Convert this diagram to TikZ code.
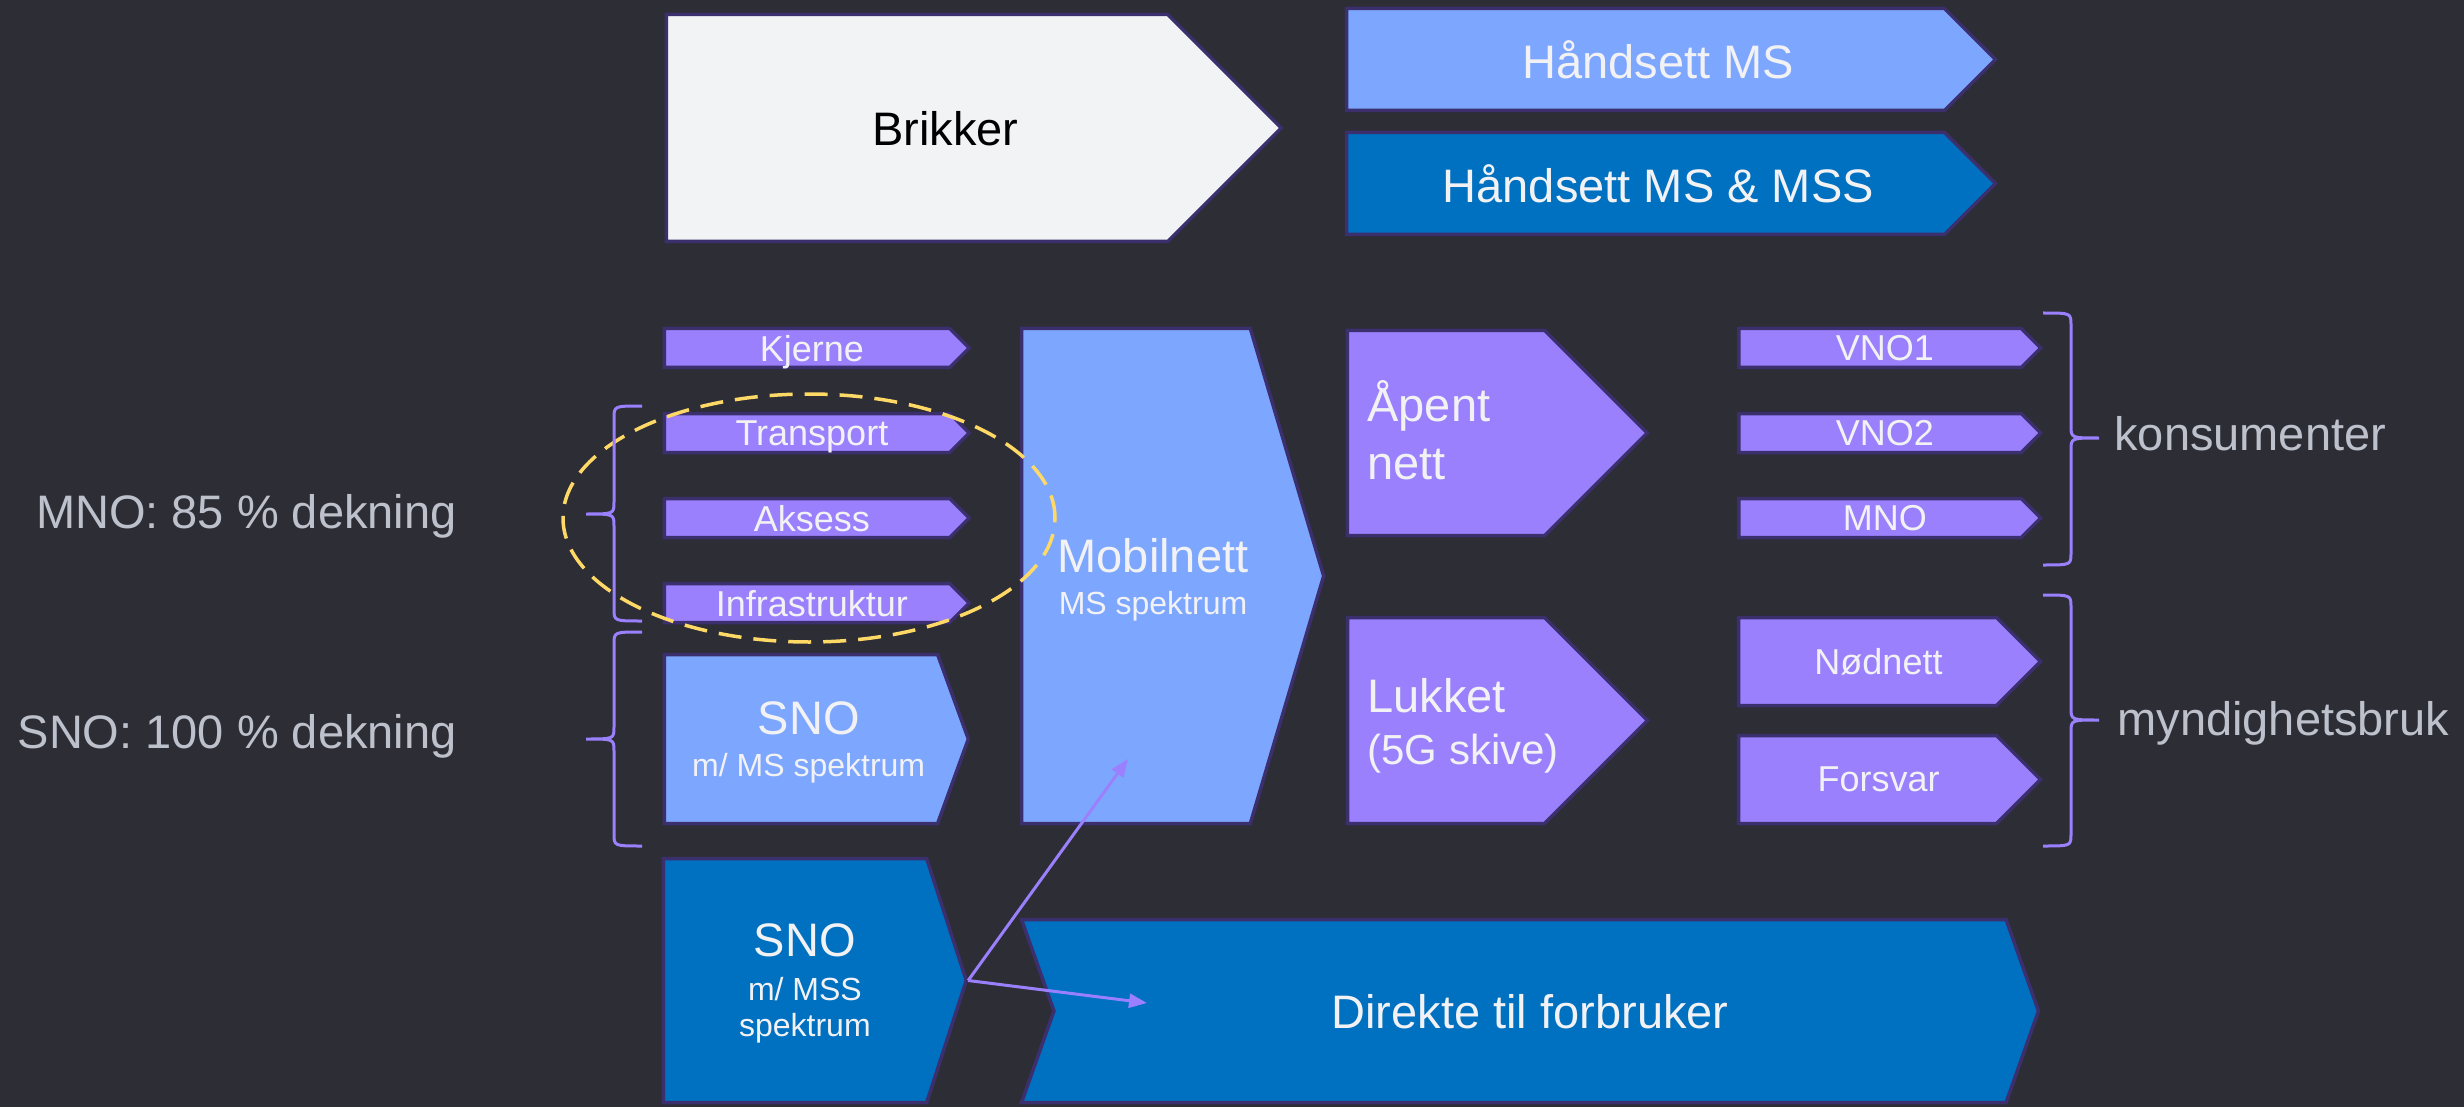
\documentclass[tikz,border=0pt]{standalone}
\usepackage{fontspec}
\setmainfont{Liberation Sans}
\usetikzlibrary{shapes.symbols,arrows.meta}
\definecolor{bg}{HTML}{2D2D36}
\definecolor{edge}{HTML}{3B2F6E}
\definecolor{chip}{HTML}{F2F3F5}
\definecolor{lightblue}{HTML}{7DA7FF}
\definecolor{darkblue}{HTML}{0070C0}
\definecolor{lilac}{HTML}{9A80FD}
\definecolor{paper}{HTML}{F2F2F5}
\definecolor{labelgray}{HTML}{BDC1CB}
\definecolor{ringyellow}{HTML}{FFD966}

\begin{document}
\begin{tikzpicture}[x=0.5pt, y=-0.5pt,
  font=\fontsize{23.5}{28}\selectfont,
  chev/.style={signal, signal to=east, draw=edge, line width=1.75pt, inner sep=0pt, text depth=0pt, text=paper, align=center},
  lite/.style={chev, fill=lightblue},
  deep/.style={chev, fill=darkblue},
  lilacbox/.style={chev, fill=lilac},
  slim/.style={lilacbox, font=\fontsize{18}{21}\selectfont, minimum width=152.5pt, minimum height=19.5pt, signal pointer angle=90},
  boxtext/.style={inner sep=0pt, text=paper, align=left},
  side/.style={inner sep=0pt, text=labelgray},
  curly/.style={draw=lilac, line width=1.5pt},
  ring/.style={draw=ringyellow, line width=1.75pt, dash pattern=on 11.5pt off 6pt},
  arr/.style={-{Triangle[length=9pt,width=7pt]}, line width=1.5pt, draw=lilac, fill=lilac}
]
\useasboundingbox (0,0) rectangle (2464,1107);
\fill[bg] (0,0) rectangle (2464,1107);

% chips and handsets
\node[chev, fill=chip, text=black, minimum width=307.5pt, minimum height=113.5pt, signal pointer angle=90] (brikker) at (917,128) {\hspace*{28.4pt}Brikker};
\node[lite, minimum width=324.5pt, minimum height=51pt, signal pointer angle=90] (hms) at (1645.5,59.5) {\hspace*{12.75pt}Håndsett MS};
\node[deep, minimum width=324.5pt, minimum height=51pt, signal pointer angle=90] (hmss) at (1645.5,183.5) {\hspace*{12.75pt}Håndsett MS \& MSS};

% network layers
\node[slim] (kjerne) at (807,348) {\hspace*{4.9pt}Kjerne};
\node[slim] (transport) at (807,433) {\hspace*{4.9pt}Transport};
\node[slim] (aksess) at (807,518) {\hspace*{4.9pt}Aksess};
\node[slim] (infra) at (807,603) {\hspace*{4.9pt}Infrastruktur};
\node[lite, font=\fontsize{16}{21}\selectfont, minimum width=152pt, minimum height=84.5pt, signal pointer angle=140] (snoms) at (801,739) {\hspace*{7.7pt}{\fontsize{23.5}{28}\selectfont SNO}\\\hspace*{7.7pt}m/ MS spektrum};
\node[lite, font=\fontsize{16}{21}\selectfont, minimum width=151pt, minimum height=247.5pt, signal pointer angle=147] (mobilnett) at (1136,576) {\hspace*{17pt}{\fontsize{23.5}{28}\selectfont Mobilnett}\\\hspace*{17pt}MS spektrum};

% open and closed network
\node[lilacbox, minimum width=150pt, minimum height=102.5pt, signal pointer angle=90] (apent) at (1446,433) {};
\node[boxtext, anchor=west, font=\fontsize{23.5}{29}\selectfont] (apenttxt) at (1367,430.5) {Åpent\\nett};
\node[lilacbox, minimum width=150pt, minimum height=103pt, signal pointer angle=90] (lukket) at (1446,720.5) {};
\node[boxtext, anchor=west, font=\fontsize{21}{26}\selectfont] (lukkettxt) at (1367,725.5) {{\fontsize{23.5}{28}\selectfont Lukket}\\(5G skive)};

% users
\node[slim, minimum width=151pt] (vno1) at (1880,348) {\hspace*{4.9pt}VNO1};
\node[slim, minimum width=151pt] (vno2) at (1880,433) {\hspace*{4.9pt}VNO2};
\node[slim, minimum width=151pt] (mno) at (1880,518) {\hspace*{4.9pt}MNO};
\node[lilacbox, font=\fontsize{18}{21}\selectfont, minimum width=151pt, minimum height=44pt, signal pointer angle=90] (nodnett) at (1867.5,661.5) {\hspace*{11pt}Nødnett};
\node[lilacbox, font=\fontsize{18}{21}\selectfont, minimum width=151pt, minimum height=44pt, signal pointer angle=90] (forsvar) at (1867.5,779.5) {\hspace*{11pt}Forsvar};

% satellite
\node[deep, font=\fontsize{16}{18}\selectfont, minimum width=151.5pt, minimum height=122pt, signal pointer angle=144] (snomss) at (795,980.5) {\hspace*{9.9pt}{\fontsize{23.5}{28}\selectfont SNO}\\[4pt]\hspace*{9.9pt}m/ MSS\\\hspace*{9.9pt}spektrum};
\node[deep, signal from=west, minimum width=508.5pt, minimum height=91.5pt, signal pointer angle=141] (direkte) at (1530,1011) {Direkte til forbruker};

\draw[ring] (809,518) ellipse [x radius=123pt, y radius=62pt];

% braces
\foreach \ya/\ym/\yb in {406/514/621, 632/739/846}
  \draw[curly] (642,\ya) .. controls (614,\ya) .. (614,\ya+12) -- (614,\ym-12) .. controls (614,\ym) .. (586,\ym) .. controls (614,\ym) .. (614,\ym+12) -- (614,\yb-12) .. controls (614,\yb) .. (642,\yb);
\foreach \ya/\ym/\yb in {313/438/565, 595/720/846}
  \draw[curly] (2043,\ya) .. controls (2071,\ya) .. (2071,\ya+12) -- (2071,\ym-12) .. controls (2071,\ym) .. (2099,\ym) .. controls (2071,\ym) .. (2071,\ym+12) -- (2071,\yb-12) .. controls (2071,\yb) .. (2043,\yb);

\node[side, anchor=base east] (mnolab) at (457,528) {MNO: 85 \% dekning};
\node[side, anchor=base east] (snolab) at (457,748) {SNO: 100 \% dekning};
\node[side, anchor=base west] (konsum) at (2114,451) {konsumenter};
\node[side, anchor=base west] (myndig) at (2117,735) {myndighetsbruk};

\coordinate (upend) at (1128,759);
\coordinate (rightend) at (1147,1003);
\draw[arr] (snomss.east) -- (upend);
\draw[arr] (snomss.east) -- (rightend);
\end{tikzpicture}
\end{document}
